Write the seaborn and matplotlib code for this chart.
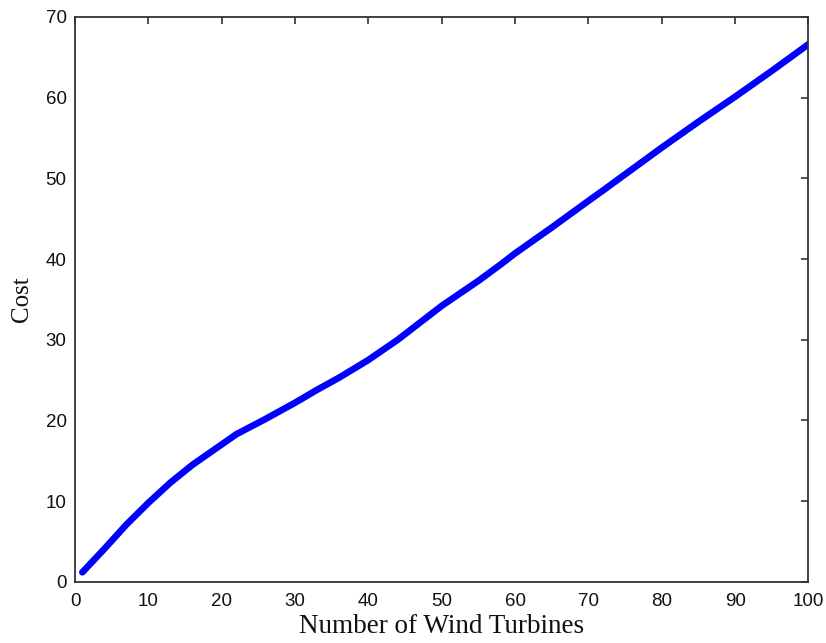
import matplotlib
matplotlib.use("Agg")
import matplotlib.pyplot as plt
import pandas as pd
import seaborn as sns

# Values
turbines = [1, 4, 7, 10, 13, 16, 19, 22, 26, 30, 33, 36, 40, 44, 50, 55, 58, 60,
            65, 70, 72, 80, 85, 90, 95, 100]
cost = [1.2, 4.1, 7.1, 9.8, 12.3, 14.5, 16.4, 18.3, 20.2, 22.2, 23.8, 25.3, 27.5, 30.0,
        34.2, 37.3, 39.3, 40.7, 43.9, 47.2, 48.5, 53.8, 57.0, 60.1, 63.3, 66.6]

x_ticks = list(range(0, 101, 10))
y_ticks = list(range(0, 71, 10))

df = pd.DataFrame({"turbines": turbines, "cost": cost})

sns.set_style("white")
plt.rcParams["font.family"] = ["Liberation Sans", "DejaVu Sans"]

fig = plt.figure(figsize=(8.26, 6.43), dpi=100)
ax = fig.add_axes([0.0908, 0.0949, 0.888, 0.879])

sns.lineplot(data=df, x="turbines", y="cost", color="#0000ff", linewidth=4.8, ax=ax)

ax.set_xlim(0, 100)
ax.set_ylim(0, 70)
ax.set_xticks(x_ticks)
ax.set_yticks(y_ticks)
ax.tick_params(direction="in", length=5, width=1.2, colors="#333333", labelsize=13.5,
               top=True, right=True, labeltop=False, labelright=False)
ax.tick_params(axis="x", pad=8)
ax.tick_params(axis="y", pad=6)
for lbl in ax.get_xticklabels() + ax.get_yticklabels():
    lbl.set_color("#111111")
for sp in ax.spines.values():
    sp.set_visible(True)
    sp.set_color("#333333")
    sp.set_linewidth(1.3)

ax.set_xlabel("Number of Wind Turbines", family="Liberation Serif", fontsize=19.5,
              labelpad=3, color="#111111")
ax.set_ylabel("Cost", family="Liberation Serif", fontsize=18, labelpad=9,
              color="#111111")

fig.savefig("out.png", dpi=100)
